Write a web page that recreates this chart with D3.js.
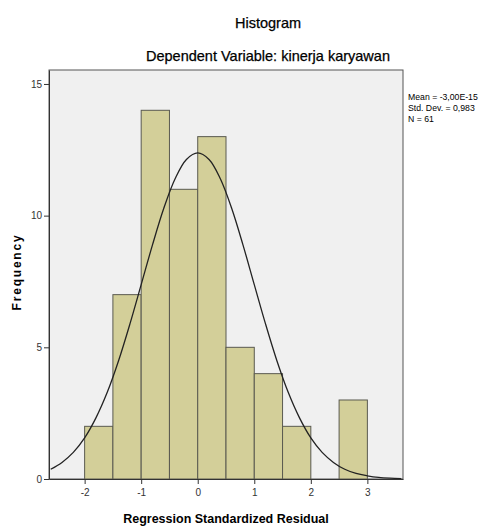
<!DOCTYPE html>
<html><head><meta charset="utf-8">
<script src="https://cdn.jsdelivr.net/npm/d3@7"></script>
<style>body{margin:0;background:#fff;font-family:"Liberation Sans",Arial,sans-serif}</style>
</head><body>
<svg id="c" width="481" height="528"></svg>
<script>
const binStarts = [-2, -1.5, -1, -0.5, 0, 0.5, 1, 1.5, 2, 2.5];
const counts    = [2, 7, 14, 11, 13, 5, 4, 2, 0, 3];
const binWidth = 0.5;
const curveX = [-2.6,-2.4,-2.2,-2.0,-1.8,-1.6,-1.4,-1.2,-1.0,-0.8,-0.6,-0.4,-0.2,0,0.2,0.4,0.6,0.8,1.0,1.2,1.4,1.6,1.8,2.0,2.2,2.4,2.6,2.8,3.0,3.2,3.4,3.6];
const curveY = [0.37,0.63,1.01,1.56,2.32,3.29,4.49,5.88,7.38,8.89,10.28,11.40,12.13,12.38,12.13,11.40,10.28,8.89,7.38,5.88,4.49,3.29,2.32,1.56,1.01,0.63,0.37,0.21,0.12,0.06,0.03,0.015];
const xTicks = [-2,-1,0,1,2,3];
const xTickLabels = ["-2","-1","0","1","2","3"];
const yTicks = [0,5,10,15];
const stats = ["Mean = -3,00E-15","Std. Dev. = 0,983","N = 61"];

const svg = d3.select("#c");
const L=49, R=403, T=70, B=479;
const x = d3.scaleLinear().domain([-2.63,3.63]).range([L,R]);
const y = d3.scaleLinear().domain([0,15.53]).range([B,T]);

svg.append("text").attr("x",268).attr("y",28).attr("text-anchor","middle")
  .attr("font-size",14.5).attr("fill","#000").attr("stroke","#000").attr("stroke-width",0.25).text("Histogram");
svg.append("text").attr("x",268).attr("y",61).attr("text-anchor","middle")
  .attr("font-size",14.5).attr("fill","#000").attr("stroke","#000").attr("stroke-width",0.25).text("Dependent Variable: kinerja karyawan");

svg.append("rect").attr("x",L).attr("y",T).attr("width",R-L).attr("height",B-T)
  .attr("fill","#f0f0f0").attr("stroke","#555").attr("stroke-width",1);

svg.append("g").selectAll("rect").data(binStarts.map((s,i)=>({s,c:counts[i]})).filter(d=>d.c>0))
  .join("rect")
  .attr("x",d=>x(d.s)).attr("width",d=>x(d.s+binWidth)-x(d.s))
  .attr("y",d=>y(d.c)).attr("height",d=>y(0)-y(d.c))
  .attr("fill","#d3cf99").attr("stroke","#5a5a50").attr("stroke-width",1);

const line = d3.line().x(d=>x(d[0])).y(d=>y(d[1])).curve(d3.curveCatmullRom);
svg.append("path").datum(curveX.map((v,i)=>[v,curveY[i]]))
  .attr("d",line).attr("fill","none").attr("stroke","#222").attr("stroke-width",1.3);

// axes
const xa = svg.append("g").attr("transform",`translate(0,${B})`)
  .call(d3.axisBottom(x).tickValues(xTicks).tickFormat((d,i)=>xTickLabels[i]).tickSize(5).tickSizeOuter(0));
const ya = svg.append("g").attr("transform",`translate(${L},0)`)
  .call(d3.axisLeft(y).tickValues(yTicks).tickFormat(d3.format("d")).tickSize(5).tickSizeOuter(0));
[xa,ya].forEach(a=>{
  a.select(".domain").attr("stroke","#333");
  a.selectAll(".tick line").attr("stroke","#333");
  a.selectAll(".tick text").attr("font-size",10).attr("fill","#333").attr("font-family","Liberation Sans, Arial, sans-serif");
});
xa.selectAll(".tick text").attr("dy","0.9em");
ya.selectAll(".tick text").attr("dx","0.1em");

svg.append("text").attr("x",226).attr("y",523).attr("text-anchor","middle")
  .attr("font-size",12.5).attr("font-weight","bold").attr("fill","#000").text("Regression Standardized Residual");
svg.append("text").attr("transform","translate(21,272) rotate(-90)").attr("text-anchor","middle")
  .attr("font-size",12).attr("font-weight","bold").attr("letter-spacing",1.8).attr("fill","#000").text("Frequency");

svg.append("g").selectAll("text").data(stats).join("text")
  .attr("x",408).attr("y",(d,i)=>100+i*11).attr("font-size",8.7).attr("fill","#000").text(d=>d);
</script>
</body></html>
